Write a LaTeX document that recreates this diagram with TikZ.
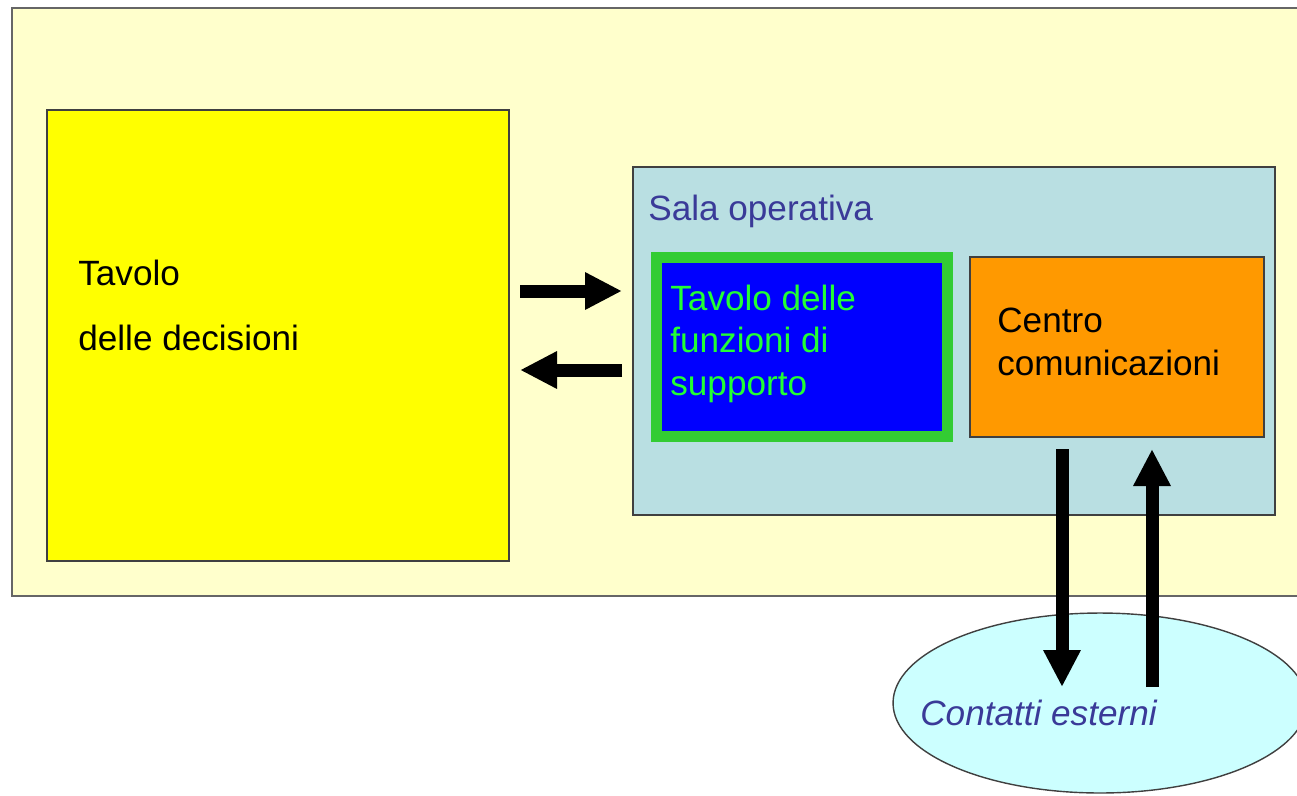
\documentclass[tikz,border=0pt]{standalone}
\usepackage{fontspec}
\setmainfont{Liberation Sans}
\usetikzlibrary{arrows.meta,shapes.geometric}
\definecolor{paleyellow}{HTML}{FFFFCC}
\definecolor{boxyellow}{HTML}{FFFF00}
\definecolor{salabg}{HTML}{B9DFE2}
\definecolor{salablue}{HTML}{3A3A98}
\definecolor{framegreen}{HTML}{33CC33}
\definecolor{textgreen}{HTML}{22FF33}
\definecolor{orangebox}{HTML}{FF9900}
\definecolor{skyfill}{HTML}{CCFFFF}
\tikzset{
    box/.style={draw=black!75, line width=0.8pt, inner sep=0pt},
    boxtext/.style={inner sep=0pt, anchor=base west, align=left,
        font=\fontsize{20}{24}\selectfont},
    bigarrow/.style={line width=0.26cm, -{Triangle[width=0.7cm,length=0.74cm]}}
}
\begin{document}
\begin{tikzpicture}[x=0.02cm, y=-0.02cm]
    \clip (0, 0) rectangle (1297, 795);
    \node [box, draw=black!60, fill=paleyellow, minimum width=25.86cm, minimum height=11.76cm] (sede) at (658.5, 302) {};
    \node [box, fill=boxyellow, minimum width=9.24cm, minimum height=9.02cm] (decisioni) at (278, 335.5) {};
    \node [box, fill=salabg, minimum width=12.84cm, minimum height=6.96cm] (sala) at (954, 341) {};
    \node [draw=framegreen, line width=0.22cm, fill=blue, inner sep=0pt, minimum width=5.84cm, minimum height=3.6cm] (supporto) at (802, 347) {};
    \node [box, fill=orangebox, minimum width=5.88cm, minimum height=3.6cm] (centro) at (1117, 347) {};
    \node [box, ellipse, fill=skyfill, minimum width=8.28cm, minimum height=3.6cm] (contatti) at (1100, 703) {};

    % base of a multi-line node is its last line
    \node [boxtext] (t1) at (78, 285) {Tavolo};
    \node [boxtext] (t2) at (78, 350) {delle decisioni};
    \node [boxtext, text=salablue] (t3) at (648, 220) {Sala operativa};
    \node [boxtext, text=textgreen] (t4) at (670, 395) {Tavolo delle\\funzioni di\\supporto};
    \node [boxtext] (t5) at (997, 375) {Centro\\comunicazioni};
    \node [boxtext, text=salablue, font=\fontsize{20}{24}\selectfont\itshape] (t6) at (920, 725) {Contatti esterni};

    \coordinate (a1) at (520, 291);
    \coordinate (a2) at (622, 291);
    \coordinate (b1) at (622, 370);
    \coordinate (b2) at (520, 370);
    \coordinate (c1) at (1062, 449);
    \coordinate (c2) at (1062, 687);
    \coordinate (d1) at (1152, 687);
    \coordinate (d2) at (1152, 449);
    \draw [bigarrow] (a1) -- (a2);
    \draw [bigarrow] (b1) -- (b2);
    \draw [bigarrow] (c1) -- (c2);
    \draw [bigarrow] (d1) -- (d2);
\end{tikzpicture}
\end{document}
